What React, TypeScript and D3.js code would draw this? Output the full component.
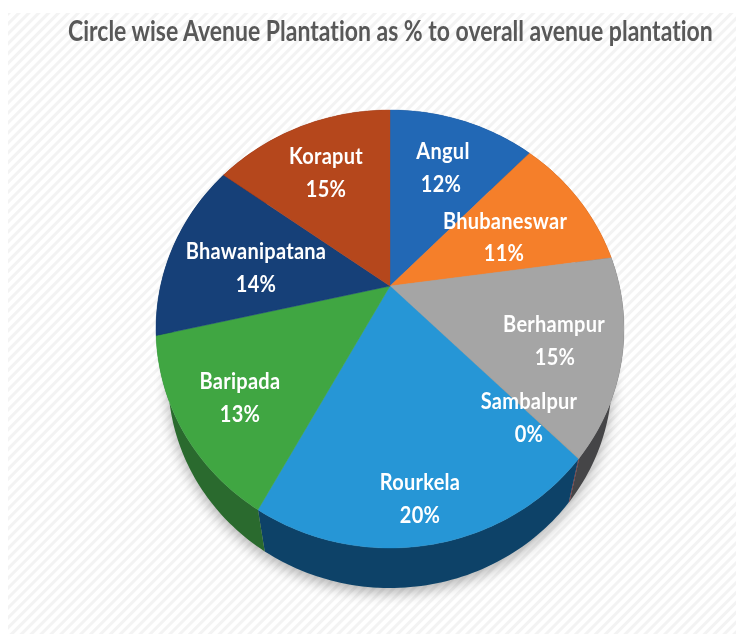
import React from "react";
import * as d3 from "d3";

const title = "Circle wise Avenue Plantation as % to overall avenue plantation";
const circles = ["Angul", "Bhubaneswar", "Berhampur", "Sambalpur", "Rourkela", "Baripada", "Bhawanipatana", "Koraput"];
const shares = [0.122, 0.106, 0.146, 0.001, 0.204, 0.1349, 0.1361, 0.15];
const topColors = ["#2267b5", "#f57f2a", "#a5a5a5", "#a8a29a", "#2596d6", "#3fa643", "#153f78", "#b5461f"];
const wallColors = ["#153f6e", "#96491a", "#454547", "#7a2a30", "#0a4268", "#2a6a2e", "#0d2747", "#6e2a12"];

// Label anchor points, in page pixels: [name centre x, name y, share centre x, share y]
const labelLayout: number[][] = [
  [443, 150, 441, 183],
  [505, 220, 504, 252],
  [554, 323, 555, 356],
  [529, 400, 529, 433],
  [420, 481, 420, 514],
  [240, 380, 240, 413],
  [256, 250, 256, 283],
  [326, 155, 326, 188],
];

const W = 736, H = 634;
const top = { cx: 390, cy: 329, rx: 234, ry: 219 };
const bottom = { cx: 390, cy: 378, rx: 222, ry: 210 };
const tilt = 0.196; // perspective shift of the pie's centre
const LABEL_SX = 0.87;

// Perspective projection of a disc angle (0 = up, clockwise) onto the unit ellipse
function project(theta: number): [number, number] {
  const y = Math.cos(theta), x = Math.sin(theta);
  const d = 1 + tilt * y;
  return [(x * Math.sqrt(1 - tilt * tilt)) / d, (y + tilt) / d];
}
const onEllipse = (e: typeof top, theta: number): [number, number] => {
  const [u, v] = project(theta);
  return [e.cx + e.rx * u, e.cy - e.ry * v];
};
const samples = (a0: number, a1: number) => {
  const n = Math.max(2, Math.ceil((a1 - a0) / 0.02));
  return d3.range(n + 1).map((i) => a0 + ((a1 - a0) * i) / n);
};

const pie = d3.pie<number>().sort(null).value((d) => d);
const arcs = pie(shares);
const line = d3.line();
const pct = d3.format(".0%");

function Label({ x, y, children }: { x: number; y: number; children: React.ReactNode }) {
  return (
    <text transform={`translate(${x},${y}) scale(${LABEL_SX},1)`} letterSpacing={0.3}>
      {children}
    </text>
  );
}

export default function App() {
  const centre: [number, number] = [top.cx, top.cy - top.ry * tilt];
  const bottomOutline = samples(0, 2 * Math.PI).map((t) => onEllipse(bottom, t));
  const fitTitle = (el: SVGTextElement | null) => {
    if (el) el.setAttribute("transform", `translate(68,41) scale(${645 / el.getComputedTextLength()},1)`);
  };
  return (
    <svg width={W} height={H} style={{ position: "absolute", left: 0, top: 0, display: "block", fontVariantLigatures: "none" }}>
      <defs>
        <pattern id="hatch" width="7" height="7" patternUnits="userSpaceOnUse" patternTransform="rotate(45)">
          <rect width="7" height="7" fill="#ffffff" />
          <rect width="3" height="7" fill="#f3f3f3" />
        </pattern>
        <filter id="soft" x="-20%" y="-20%" width="140%" height="140%">
          <feGaussianBlur stdDeviation="7" />
        </filter>
        <filter id="txt" x="-5%" y="-30%" width="110%" height="160%">
          <feGaussianBlur stdDeviation="0.45" />
        </filter>
        <filter id="edge" x="-5%" y="-5%" width="110%" height="110%">
          <feGaussianBlur stdDeviation="0.5" />
        </filter>
      </defs>
      <rect width={W} height={H} fill="#ffffff" />
      <rect x={8} y={13} width={W - 8} height={H - 13} fill="url(#hatch)" />
      <g filter="url(#txt)">
        <text
          ref={fitTitle}
          transform="translate(68,41) scale(0.82,1)"
          fontFamily="Lato, sans-serif"
          fontWeight={700}
          fontSize={28}
          fill="#595959"
        >
          {title}
        </text>
      </g>
      <path
        d={(line(bottomOutline.map(([x, y]) => [x, y + 5])) as string) + "Z"}
        fill="#000"
        opacity={0.3}
        filter="url(#soft)"
      />
      <g filter="url(#edge)">
        {arcs.map((a, i) => {
          const ts = samples(a.startAngle, a.endAngle);
          const upper = ts.map((t) => onEllipse(top, t));
          const lower = ts.map((t) => onEllipse(bottom, t)).reverse();
          return <path key={i} d={(line([...upper, ...lower]) as string) + "Z"} fill={wallColors[i]} />;
        })}
        {arcs.map((a, i) => {
          const upper = samples(a.startAngle, a.endAngle).map((t) => onEllipse(top, t));
          return <path key={i} d={(line([centre, ...upper]) as string) + "Z"} fill={topColors[i]} stroke={topColors[i]} strokeWidth={0.4} />;
        })}
      </g>
      <g
        fontFamily="Lato, sans-serif"
        fontWeight={700}
        fontSize={23}
        fill="#ffffff"
        textAnchor="middle"
        dominantBaseline="central"
        filter="url(#txt)"
      >
        {circles.map((c, i) => (
          <g key={c}>
            <Label x={labelLayout[i][0]} y={labelLayout[i][1]}>{c}</Label>
            <Label x={labelLayout[i][2]} y={labelLayout[i][3]}>{pct(Math.round(shares[i] * 100) / 100)}</Label>
          </g>
        ))}
      </g>
    </svg>
  );
}
